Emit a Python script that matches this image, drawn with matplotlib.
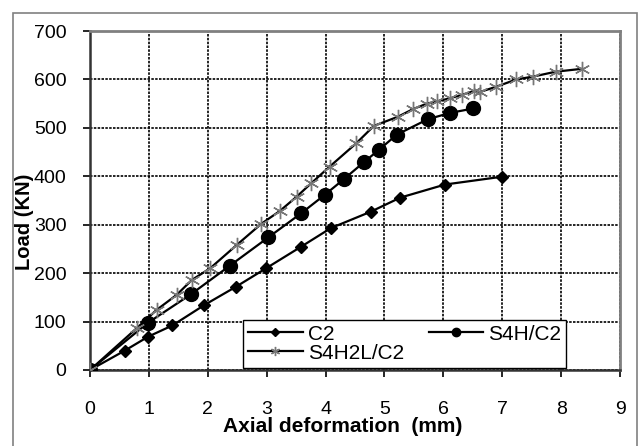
import matplotlib
matplotlib.use("Agg")
import matplotlib.pyplot as plt
from matplotlib.patches import Rectangle

plt.rcParams['font.family'] = ['Liberation Sans', 'DejaVu Sans']

# C2
c2_x = [0, 0.59, 0.99, 1.40, 1.94, 2.48, 2.99, 3.59, 4.09, 4.77, 5.27, 6.03, 6.99]
c2_y = [0, 40, 69, 92, 134, 172, 210, 255, 293, 327, 356, 383, 399]

# S4H/C2
s4h_x = [0, 0.99, 1.71, 2.37, 3.03, 3.59, 3.99, 4.31, 4.66, 4.91, 5.21, 5.74, 6.12, 6.51]
s4h_y = [0, 98, 156, 215, 274, 324, 362, 394, 430, 455, 486, 518, 531, 540]

# S4H2L/C2
s4h2l_x = [0, 0.79, 1.13, 1.47, 1.73, 2.04, 2.49, 2.91, 3.22, 3.51, 3.76, 4.07, 4.52,
           4.82, 5.23, 5.49, 5.72, 5.90, 6.11, 6.31, 6.52, 6.62, 6.90, 7.24, 7.53, 7.91, 8.36]
s4h2l_y = [0, 86, 124, 155, 186, 210, 258, 302, 328, 358, 386, 420, 468,
           504, 523, 539, 550, 555, 561, 568, 576, 574, 585, 600, 606, 616, 622]

x_ticks = [0, 1, 2, 3, 4, 5, 6, 7, 8, 9]
y_ticks = [0, 100, 200, 300, 400, 500, 600, 700]

fig = plt.figure(figsize=(6.44, 4.46), dpi=100)
# outer chart-area border
fig.patches.append(Rectangle((13 / 644, -0.05), 624 / 644, 1 - 13 / 446 + 0.05,
                             transform=fig.transFigure, fill=False,
                             edgecolor='#808080', linewidth=1.2))
ax = fig.add_axes([90 / 644, 1 - 370 / 446, 530 / 644, 339 / 446])

l1, = ax.plot(c2_x, c2_y, color='black', lw=1.6, marker='D', ms=6.2,
              mfc='black', mec='black', label='C2', zorder=3)
l2, = ax.plot(s4h_x, s4h_y, color='black', lw=1.6, marker='o', ms=10,
              mfc='black', mec='black', label='S4H/C2', zorder=3)
l3, = ax.plot(s4h2l_x, s4h2l_y, color='black', lw=1.6, marker=(6, 2, 0), ms=11,
              mec='#777777', mew=1.0, label='S4H2L/C2', zorder=3)

ax.set_xlim(0, 9)
ax.set_ylim(0, 700)
ax.set_xticks(x_ticks)
ax.set_yticks(y_ticks)
ax.grid(True, color='black', linestyle=(0, (1.5, 0.8)), linewidth=1.2)
ax.set_axisbelow(True)

for s in ['top', 'right']:
    ax.spines[s].set_color('#808080')
    ax.spines[s].set_linewidth(2.0)
for s in ['left', 'bottom']:
    ax.spines[s].set_color('#333333')
    ax.spines[s].set_linewidth(1.8)

ax.tick_params(axis='x', direction='out', length=5, width=1.2, pad=17, labelsize=14)
ax.tick_params(axis='y', direction='out', length=5, width=1.2, pad=12, labelsize=14)

ax.set_xlabel('Axial deformation  (mm)', fontsize=15, fontweight='bold')
ax.xaxis.set_label_coords(0.476, -0.14)
ax.set_ylabel('Load (KN)', fontsize=14.5, fontweight='bold')
ax.yaxis.set_label_coords(-0.106, 0.437)

leg = ax.legend(handles=[l1, l3, l2], ncol=2, loc='lower left',
                bbox_to_anchor=(0.289, 0.006),
                fontsize=15, handlelength=2.6, markerscale=0.6, fancybox=False,
                framealpha=1, edgecolor='black', borderpad=0.25, labelspacing=0.0,
                handletextpad=0.25, columnspacing=1.2, borderaxespad=0)
leg.get_frame().set_linewidth(1.0)

fig.savefig('out.png', dpi=100)
